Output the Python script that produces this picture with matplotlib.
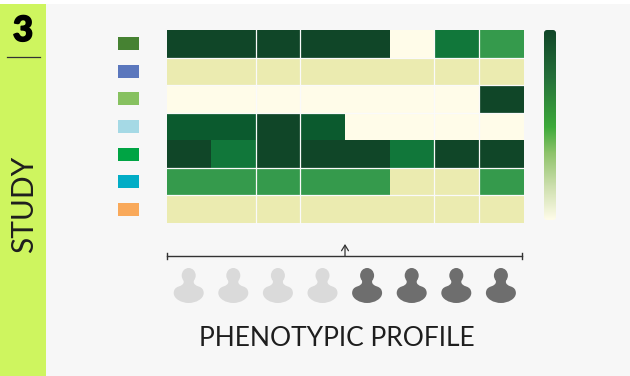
import numpy as np
import matplotlib
matplotlib.use("Agg")
import matplotlib.pyplot as plt
import matplotlib.patheffects as pe
from matplotlib.colors import ListedColormap, BoundaryNorm, LinearSegmentedColormap
from matplotlib.patches import Rectangle, Ellipse, FancyBboxPatch, PathPatch
from matplotlib.path import Path

plt.rcParams['font.family'] = ['Lato', 'DejaVu Sans']

# heatmap levels, one row per study swatch
study_colors = ['#468232', '#5B77BD', '#87C160', '#A5D9E5', '#00A444', '#02ADC6', '#F9A95A']
heat = [
    [5, 5, 5, 5, 5, 0, 3, 2],
    [1, 1, 1, 1, 1, 1, 1, 1],
    [0, 0, 0, 0, 0, 0, 0, 5],
    [4, 4, 5, 4, 0, 0, 0, 0],
    [5, 3, 5, 5, 5, 3, 5, 5],
    [2, 2, 2, 2, 2, 1, 1, 2],
    [1, 1, 1, 1, 1, 1, 1, 1],
]
level_colors = ['#FFFCE9', '#EBEBB0', '#359A4C', '#11773A', '#0B5A2E', '#104628']
profile = [0, 0, 0, 0, 1, 1, 1, 1]
profile_colors = ['#DADADA', '#6E6E6E']
grad_colors = [(0, '#FFFCE9'), (0.17, '#CFE0B0'), (0.35, '#8FC36B'), (0.49, '#3DAA3A'), (0.75, '#25703A'), (1, '#104628')]

fig = plt.figure(figsize=(6.3, 3.76), dpi=100, facecolor='white')
ax = fig.add_axes([0, 0, 1, 1])

# panel and side strip
ax.add_patch(Rectangle((46, 4), 584, 372, fc='#F7F7F7', ec='none', zorder=0))
ax.add_patch(Rectangle((0, 4), 46, 372, fc='#CEF55F', ec='none', zorder=0))
ax.plot([7, 40], [57, 57], color='#333333', lw=0.9)
ax.text(23, 31, '3', ha='center', va='center', fontsize=25, fontweight='black', color='black',
        path_effects=[pe.withStroke(linewidth=1.2, foreground='black')])
ax.text(24, 204, 'STUDY', ha='center', va='center', rotation=90, fontsize=21.5, color='#1E1E1E')

# heatmap
x0, x1, y0, y1 = 167, 524, 30, 223
cmap = ListedColormap(level_colors)
norm = BoundaryNorm(np.arange(len(level_colors) + 1) - 0.5, cmap.N)
ax.imshow(heat, cmap=cmap, norm=norm, extent=(x0, x1, y1, y0), aspect='auto', interpolation='nearest', zorder=1)

nrow, ncol = np.shape(heat)
cw = (x1 - x0) / ncol
rh = (y1 - y0) / nrow
for c in [2, 3, 6, 7]:
    ax.plot([x0 + c * cw - 0.7] * 2, [y0, y1], color='#FAFAFA', lw=0.9, zorder=2)
for r in [1, 2, 3, 5, 6]:
    ax.plot([x0, x1], [y0 + r * rh] * 2, color='#FAFAFA', lw=0.9, zorder=2)

# study swatches
for i, col in enumerate(study_colors):
    cy = y0 + (i + 0.5) * rh
    ax.add_patch(Rectangle((118, cy - 6.5), 21, 13, fc=col, ec='none'))

# gradient bar
gcmap = LinearSegmentedColormap.from_list('grad', grad_colors)
im = ax.imshow(np.linspace(1, 0, 256).reshape(-1, 1), cmap=gcmap, vmin=0, vmax=1,
               extent=(544, 556, 220, 30), aspect='auto', zorder=1)
clip = FancyBboxPatch((544, 30), 12, 190, boxstyle='round,pad=0,rounding_size=3',
                      fc='none', ec='none', transform=ax.transData)
ax.add_patch(clip)
im.set_clip_path(clip)

# bracket with arrow
ax.plot([167, 522], [256, 256], color='#333333', lw=1)
ax.plot([167, 167], [253, 259], color='#333333', lw=1)
ax.plot([522, 522], [253, 259], color='#333333', lw=1)
ax.annotate('', xy=(345, 244), xytext=(345, 256),
            arrowprops=dict(arrowstyle='->,head_width=0.25,head_length=0.4', color='#333333', lw=0.9, shrinkA=0, shrinkB=0))


# person icon, shape relative to its centre x and top y
def person(cx, top, color):
    ax.add_patch(Ellipse((cx, top + 7.5), 14, 15, fc=color, ec='none'))
    verts = [(-5, 10), (-5, 14), (-5, 17), (-10, 18.5), (-15, 20), (-15, 25), (-15, 31), (-7, 35), (0, 35),
             (7, 35), (15, 31), (15, 25), (15, 20), (10, 18.5), (5, 17), (5, 14), (5, 10), (-5, 10)]
    codes = [Path.MOVETO, Path.LINETO, Path.CURVE3, Path.CURVE3, Path.CURVE3, Path.CURVE3,
             Path.CURVE4, Path.CURVE4, Path.CURVE4, Path.CURVE4, Path.CURVE4, Path.CURVE4,
             Path.CURVE3, Path.CURVE3, Path.CURVE3, Path.CURVE3, Path.LINETO, Path.CLOSEPOLY]
    ax.add_patch(PathPatch(Path([(cx + a, top + b) for a, b in verts], codes), fc=color, ec='none'))


for i, p in enumerate(profile):
    person(188.7 + i * 44.6, 268, profile_colors[p])

ax.text(337, 338, 'PHENOTYPIC PROFILE', ha='center', va='center', fontsize=19, color='#1E1E1E')

ax.set_xlim(0, 630)
ax.set_ylim(376, 0)
ax.axis('off')
fig.savefig('out.png', dpi=100)
